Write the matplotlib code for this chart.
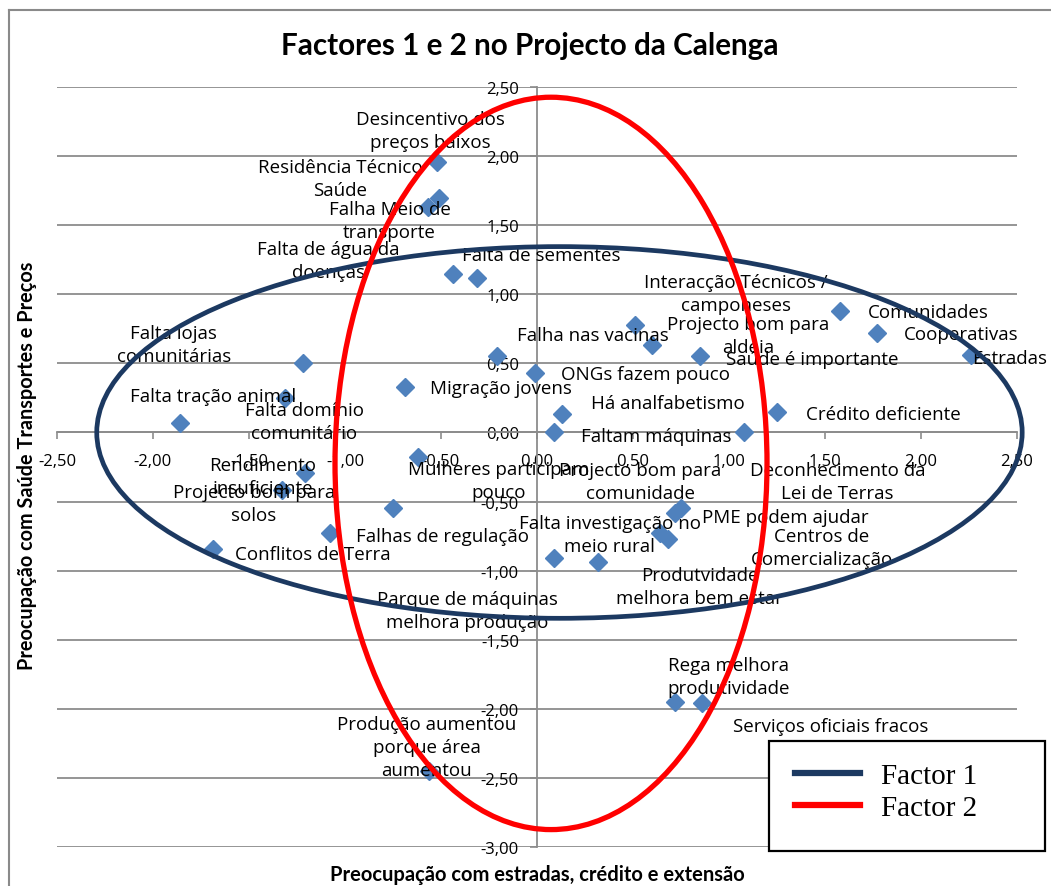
import matplotlib
matplotlib.use("Agg")
import matplotlib.pyplot as plt
from matplotlib.patches import Ellipse
from matplotlib.lines import Line2D
from matplotlib.ticker import FuncFormatter, MultipleLocator

# ---------------- data ----------------
labels = [
    "Desincentivo dos\npreços baixos",
    "Residência Técnico\nSaúde",
    "Falha Meio de\ntransporte",
    "Falta de água da\ndoenças",
    "Falta de sementes",
    "Falta lojas\ncomunitárias",
    "Falha nas vacinas",
    "ONGs fazem pouco",
    "Interacção Técnicos /\ncamponeses",
    "Projecto bom para\naldeia",
    "Saúde é importante",
    "Comunidades",
    "Cooperativas",
    "Estradas",
    "Migração jovens",
    "Falta domínio\ncomunitário",
    "Falta tração animal",
    "Há analfabetismo",
    "Faltam máquinas",
    "Deconhecimento da\nLei de Terras",
    "Crédito deficiente",
    "Mulheres participam\npouco",
    "Rendimento\ninsuficiente",
    "Projecto bom para\nsolos",
    "Falhas de regulação",
    "",
    "Conflitos de Terra",
    "Projecto bom para\ncomunidade",
    "PME podem ajudar",
    "Falta investigação no\nmeio rural",
    "Centros de\nComercialização",
    "Parque de máquinas\nmelhora produção",
    "Produtvidade\nmelhora bem estar",
    "Rega melhora\nprodutividade",
    "Serviços oficiais fracos",
    "Produção aumentou\nporque área\naumentou",
]

factor1 = [-0.52, -0.51, -0.57, -0.44, -0.31, -1.22, -0.21, -0.01, 0.51, 0.60,
           0.85, 1.58, 1.77, 2.26, -0.69, -1.31, -1.86, 0.13, 0.09, 1.08,
           1.25, -0.62, -1.21, -1.33, -0.75, -1.08, -1.69, 0.72, 0.75, 0.64,
           0.68, 0.09, 0.32, 0.72, 0.86, -0.56]

factor2 = [1.96, 1.70, 1.63, 1.15, 1.12, 0.50, 0.55, 0.43, 0.78, 0.63,
           0.55, 0.88, 0.72, 0.56, 0.33, 0.25, 0.07, 0.13, 0.00, 0.00,
           0.15, -0.18, -0.29, -0.42, -0.55, -0.73, -0.84, -0.58, -0.55, -0.73,
           -0.77, -0.91, -0.94, -1.95, -1.96, -2.45]

# label offsets from their point (pixels, x right / y down)
label_offsets_px = [
    (-7, -31), (-99, -19), (-38, 13), (-124, -13), (64, -23), (-129, -19),
    (96, -21), (110, 1), (101, -31), (96, -10), (112, 3), (88, 1),
    (84, 1), (39, 3), (96, 1), (19, 24), (33, -27), (106, -11),
    (102, 4), (93, 49), (106, 2), (81, 23), (-42, 4), (-28, 13),
    (49, 28), (0, 0), (100, 5), (-35, -31), (104, 9), (-50, 1),
    (154, 9), (-87, 52), (101, 24), (53, -25), (129, 23), (-3, -24),
]

# hand-drawn ellipses (data units): centre, width, height
f1_center, f1_width, f1_height = (0.117, 0.0), 4.82, 2.69
f2_center, f2_width, f2_height = (0.073, -0.224), 2.25, 5.30

title = "Factores 1 e 2 no Projecto da Calenga"
xlabel = "Preocupação com estradas, crédito e extensão"
ylabel = "Preocupação com Saúde Transportes e Preços"
legend_names = ["Factor 1", "Factor 2"]

# ---------------- style ----------------
W, H = 1051, 887
fig = plt.figure(figsize=(W / 100, H / 100), dpi=100)
ax = fig.add_axes([57 / W, 1 - 848 / H, 960 / W, 760 / H])

LBL_FONT = "Open Sans"
GRID = "#8c8c8c"
MARK = "#4f81bd"
NAVY = "#1c3961"
RED = "#ff0000"

ax.set_xlim(-2.5, 2.5)
ax.set_ylim(-3.0, 2.5)
ax.xaxis.set_major_locator(MultipleLocator(0.5))
ax.yaxis.set_major_locator(MultipleLocator(0.5))
fmt = FuncFormatter(lambda v, p: f"{v:.2f}".replace(".", ","))
ax.xaxis.set_major_formatter(fmt)
ax.yaxis.set_major_formatter(fmt)

for s in ["top", "right"]:
    ax.spines[s].set_visible(False)
ax.spines["left"].set_position(("data", 0))
ax.spines["bottom"].set_position(("data", 0))
for s in ["left", "bottom"]:
    ax.spines[s].set_color(GRID)
    ax.spines[s].set_linewidth(1.3)
ax.yaxis.grid(True, color=GRID, linewidth=1.3)
ax.set_axisbelow(True)
ax.tick_params(axis="x", direction="out", length=5, width=1.2, color=GRID, pad=10,
               labelsize=12)
ax.tick_params(axis="y", direction="out", length=5, width=1.2, color=GRID, pad=8,
               labelsize=12)
for t in ax.get_xticklabels() + ax.get_yticklabels():
    t.set_fontfamily(LBL_FONT)

ax.plot(factor1, factor2, linestyle="none", marker="D", markersize=9,
        color=MARK, zorder=3, clip_on=False)

for lab, x, y, (dx, dy) in zip(labels, factor1, factor2, label_offsets_px):
    if not lab:
        continue
    ax.annotate(lab, xy=(x, y), xytext=(dx * 0.72, -dy * 0.72),
                textcoords="offset points", ha="center", va="center",
                multialignment="center", fontsize=13.5, family=LBL_FONT,
                linespacing=1.35, zorder=4, annotation_clip=False)

e1 = Ellipse(f1_center, f1_width, f1_height, fill=False, edgecolor=NAVY,
             linewidth=3.4, zorder=6, clip_on=False)
e2 = Ellipse(f2_center, f2_width, f2_height, fill=False, edgecolor=RED,
             linewidth=3.8, zorder=7, clip_on=False)
ax.add_patch(e1)
ax.add_patch(e2)

# titles
fig.text(530 / W, 1 - 46 / H, title, ha="center", va="center",
         fontsize=21.3, fontweight="bold", family="Lato")
fig.text(537 / W, 1 - 875 / H, xlabel, ha="center", va="center",
         fontsize=14.5, fontweight="bold", family="Lato")
fig.text(27 / W, 1 - 466 / H, ylabel, ha="center", va="center", rotation=90,
         fontsize=14.3, fontweight="bold", family="Lato")

# legend
handles = [Line2D([], [], color=NAVY, linewidth=4.5),
           Line2D([], [], color=RED, linewidth=4.5)]
leg = fig.legend(handles, legend_names, loc="upper left",
                 bbox_to_anchor=(775 / W, 1 - 743 / H), frameon=False,
                 prop={"family": "Liberation Serif", "size": 21},
                 handlelength=2.2, handletextpad=0.75, labelspacing=0.2,
                 borderpad=0.2)
fig.patches.append(matplotlib.patches.Rectangle(
    (769 / W, 1 - 852 / H), 276 / W, 110 / H, transform=fig.transFigure,
    fill=True, facecolor="white", edgecolor="black", linewidth=1.6, zorder=8))
leg.set_zorder(9)

# chart outer border
fig.add_artist(Line2D([9 / W, 9 / W], [0, 1 - 11 / H], color="#8a8a8a",
                      linewidth=1.5, transform=fig.transFigure))
fig.add_artist(Line2D([9 / W, 1], [1 - 11 / H, 1 - 11 / H], color="#8a8a8a",
                      linewidth=1.5, transform=fig.transFigure))

fig.savefig("out.png", dpi=100)
